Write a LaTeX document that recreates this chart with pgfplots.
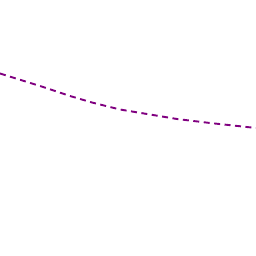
\documentclass[border=0pt]{standalone}
\usepackage{pgfplots}
\pgfplotsset{compat=1.18}
\definecolor{lc}{RGB}{128,0,128}
\begin{document}
\begin{tikzpicture}
\begin{axis}[
  width=256pt, height=256pt, scale only axis,
  hide axis,
  xmin=0, xmax=256, ymin=0, ymax=256, y dir=reverse,
  clip=true,
]
\addplot[lc, line width=1.9pt, dash pattern=on 6pt off 4.5pt] coordinates {
(0,73.5) (40,86) (70,96) (92,102.5) (120,109.5) (150,114.5) (177,119) (210,123) (256,128)
};
\end{axis}
\path (current axis.south west) rectangle (current axis.north east);
\end{tikzpicture}
\end{document}
